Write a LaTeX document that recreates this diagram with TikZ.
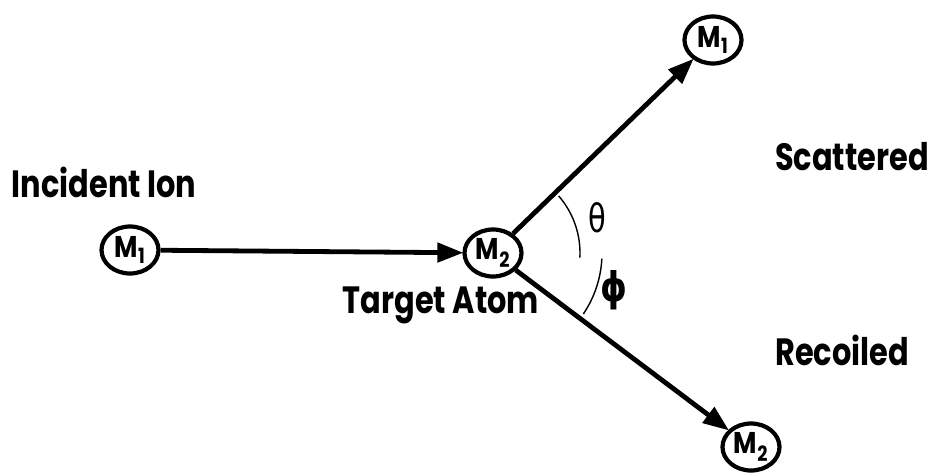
\documentclass[tikz,border=0pt]{standalone}
\usepackage{fontspec}
\setmainfont{Poppins}
\newfontfamily\greekfont{DejaVu Sans}
\usetikzlibrary{arrows.meta,shapes.geometric}
\begin{document}
\begin{tikzpicture}[x=1pt,y=1pt,
  particle/.style={ellipse,draw,line width=4.2pt,minimum width=57pt,minimum height=47pt,inner sep=0pt,font=\fontsize{30}{30}\selectfont\bfseries},
  path/.style={line width=4.8pt,-{Triangle[length=26pt,width=19pt]},shorten >=-1pt},
  anglearc/.style={line width=1.4pt},
  lbl/.style={font=\fontsize{38}{38}\selectfont\bfseries,inner sep=0pt},
  greek/.style={font=\fontsize{34}{34}\greekfont,inner sep=0pt}]
\useasboundingbox (0,0) rectangle (936,475);
\node[particle] (m1l) at (130,225) {\scalebox{0.85}[1]{M\textsubscript{1}}};
\node[particle] (m2c) at (493,222) {\scalebox{0.85}[1]{M\textsubscript{2}}};
\node[particle] (m1t) at (713,435) {\scalebox{0.85}[1]{M\textsubscript{1}}};
\node[particle] (m2b) at (751,28) {\scalebox{0.85}[1]{M\textsubscript{2}}};
\draw[path] (m1l) -- (m2c);
\draw[path] (m2c) -- (m1t);
\draw[path] (m2c) -- (m2b);
\draw[anglearc] ([shift={(-3:87pt)}]m2c.center) arc[start angle=-3,end angle=41,radius=87pt];
\draw[anglearc] ([shift={(-3:109pt)}]m2c.center) arc[start angle=-3,end angle=-34,radius=109pt];
\node[greek] (theta) at (597,257) {\scalebox{0.85}[1.15]{θ}};
\node[greek] (phi) at (614,185) {\bfseries\scalebox{1}[1.2]{ϕ}};
\node[lbl] (inc) at (104,293) {\scalebox{0.8}[1]{Incident Ion}};
\node[lbl] (sca) at (852,318) {\scalebox{0.8}[1]{Scattered}};
\node[lbl] (rec) at (842,125) {\scalebox{0.8}[1]{Recoiled}};
\node[lbl] (tgt) at (441,170) {\scalebox{0.8}[1]{Target Atom}};
\end{tikzpicture}
\end{document}
